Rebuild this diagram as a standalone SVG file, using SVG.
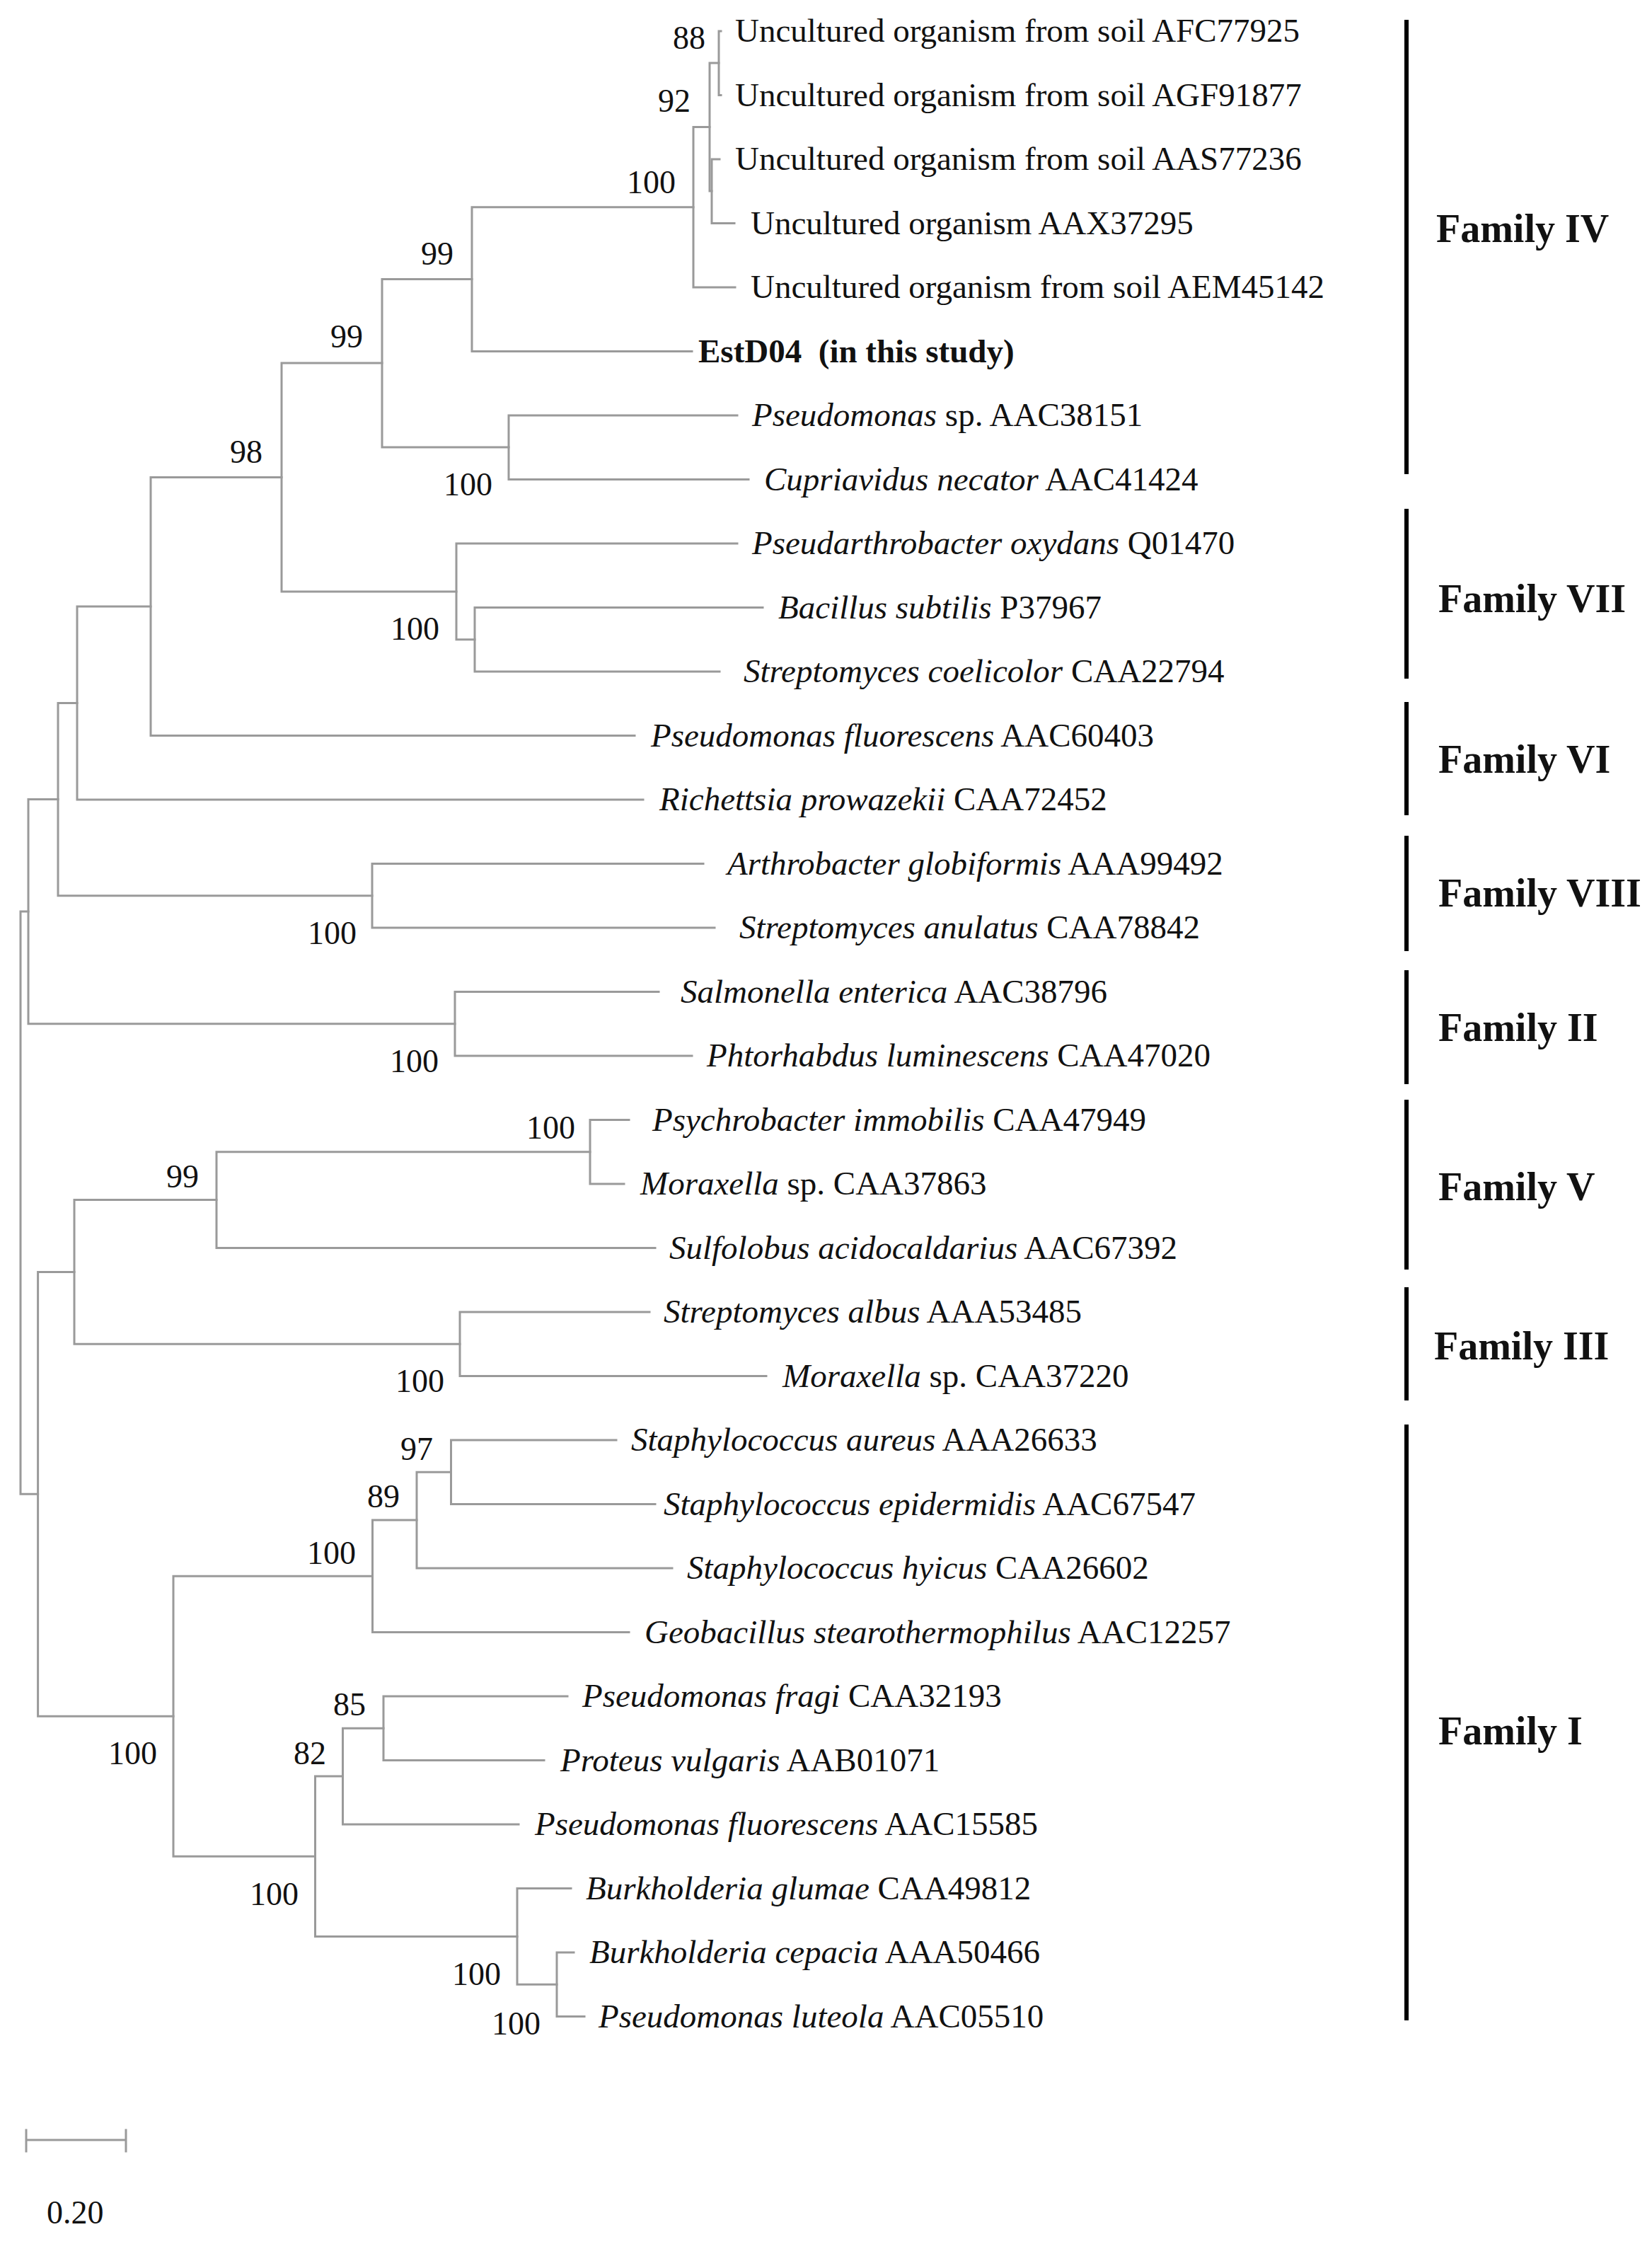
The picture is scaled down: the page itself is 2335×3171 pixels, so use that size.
<svg xmlns="http://www.w3.org/2000/svg" width="2335" height="3171" viewBox="0 0 2335 3171">
<style>
.br{fill:none;stroke:#9a9a9a;stroke-width:3;stroke-linecap:square}
.bar{stroke:#000;stroke-width:6}
text{font-family:"Liberation Serif","Times New Roman",serif;fill:#111}
.lf{font-size:47px}
.bs{font-size:46px}
.fam{font-size:56px;font-weight:bold}
.it{font-style:italic}
</style>
<rect width="2335" height="3171" fill="#fff"/>
<g id="connectors">
<path class="br" d="M1016 44V134.5M1016 44H1019M1016 134.5H1019"/>
<path class="br" d="M1006 225V315.5M1006 225H1017M1006 315.5H1038"/>
<path class="br" d="M1003 89V270M1003 89H1016M1003 270H1006"/>
<path class="br" d="M980 179.5V406M980 179.5H1003M980 406H1039"/>
<path class="br" d="M667 292.75V496.5M667 292.75H980M667 496.5H978"/>
<path class="br" d="M719 587V677.5M719 587H1042M719 677.5H1058"/>
<path class="br" d="M540 394.6V632M540 394.6H667M540 632H719"/>
<path class="br" d="M671 858.5V949M671 858.5H1078M671 949H1017"/>
<path class="br" d="M645 768V903.75M645 768H1042M645 903.75H671"/>
<path class="br" d="M398 513V836M398 513H540M398 836H645"/>
<path class="br" d="M213 674.5V1039.5M213 674.5H398M213 1039.5H897"/>
<path class="br" d="M109 857V1130M109 857H213M109 1130H909"/>
<path class="br" d="M526 1220.5V1311M526 1220.5H994M526 1311H1010"/>
<path class="br" d="M82 993.5V1265.75M82 993.5H109M82 1265.75H526"/>
<path class="br" d="M643 1401.5V1492M643 1401.5H931M643 1492H978"/>
<path class="br" d="M40 1129.6V1446.75M40 1129.6H82M40 1446.75H643"/>
<path class="br" d="M834 1582.5V1673M834 1582.5H889M834 1673H882"/>
<path class="br" d="M306 1627.75V1763.5M306 1627.75H834M306 1763.5H926"/>
<path class="br" d="M650 1854V1944.5M650 1854H918M650 1944.5H1083"/>
<path class="br" d="M105 1695.6V1899.25M105 1695.6H306M105 1899.25H650"/>
<path class="br" d="M637.5 2035V2125.5M637.5 2035H871M637.5 2125.5H926"/>
<path class="br" d="M589 2080.25V2216M589 2080.25H637.5M589 2216H950"/>
<path class="br" d="M526.5 2148.1V2306.5M526.5 2148.1H589M526.5 2306.5H889"/>
<path class="br" d="M542 2397V2487.5M542 2397H802M542 2487.5H769"/>
<path class="br" d="M484.5 2442.25V2578M484.5 2442.25H542M484.5 2578H733"/>
<path class="br" d="M787 2759V2849.5M787 2759H811M787 2849.5H826"/>
<path class="br" d="M731 2668.5V2804.25M731 2668.5H807M731 2804.25H787"/>
<path class="br" d="M445.5 2510.1V2736.4M445.5 2510.1H484.5M445.5 2736.4H731"/>
<path class="br" d="M245 2227.3V2623.25M245 2227.3H526.5M245 2623.25H445.5"/>
<path class="br" d="M53.6 1797.4V2425.3M53.6 1797.4H105M53.6 2425.3H245"/>
<path class="br" d="M29 1288V2111.3M29 1288H40M29 2111.3H53.6"/>
<path class="br" d="M37 3024H178M37 3010V3040M178 3010V3040"/>
</g>
<g id="leaves" class="lf">
<text id="n1" x="1039" y="59">Uncultured organism from soil AFC77925</text>
<text id="n2" x="1039" y="149.5">Uncultured organism from soil AGF91877</text>
<text id="n3" x="1039" y="240">Uncultured organism from soil AAS77236</text>
<text id="n4" x="1061" y="330.5">Uncultured organism AAX37295</text>
<text id="n5" x="1061" y="421">Uncultured organism from soil AEM45142</text>
<text id="n6" x="987" y="511.5" font-weight="bold" style="white-space:pre">EstD04  (in this study)</text>
<text id="n7" x="1063" y="602"><tspan class="it">Pseudomonas</tspan> sp. AAC38151</text>
<text id="n8" x="1080" y="692.5"><tspan class="it">Cupriavidus necator</tspan> AAC41424</text>
<text id="n9" x="1063" y="783"><tspan class="it">Pseudarthrobacter oxydans</tspan> Q01470</text>
<text id="n10" x="1100" y="873.5"><tspan class="it">Bacillus subtilis</tspan> P37967</text>
<text id="n11" x="1051" y="964"><tspan class="it">Streptomyces coelicolor</tspan> CAA22794</text>
<text id="n12" x="920" y="1054.5"><tspan class="it">Pseudomonas fluorescens</tspan> AAC60403</text>
<text id="n13" x="932" y="1145"><tspan class="it">Richettsia prowazekii</tspan> CAA72452</text>
<text id="n14" x="1028" y="1235.5"><tspan class="it">Arthrobacter globiformis</tspan> AAA99492</text>
<text id="n15" x="1045" y="1326"><tspan class="it">Streptomyces anulatus</tspan> CAA78842</text>
<text id="n16" x="962" y="1416.5"><tspan class="it">Salmonella enterica</tspan> AAC38796</text>
<text id="n17" x="999" y="1507"><tspan class="it">Phtorhabdus luminescens</tspan> CAA47020</text>
<text id="n18" x="922" y="1597.5"><tspan class="it">Psychrobacter immobilis</tspan> CAA47949</text>
<text id="n19" x="905" y="1688"><tspan class="it">Moraxella</tspan> sp. CAA37863</text>
<text id="n20" x="946" y="1778.5"><tspan class="it">Sulfolobus acidocaldarius</tspan> AAC67392</text>
<text id="n21" x="938" y="1869"><tspan class="it">Streptomyces albus</tspan> AAA53485</text>
<text id="n22" x="1106" y="1959.5"><tspan class="it">Moraxella</tspan> sp. CAA37220</text>
<text id="n23" x="892" y="2050"><tspan class="it">Staphylococcus aureus</tspan> AAA26633</text>
<text id="n24" x="938" y="2140.5"><tspan class="it">Staphylococcus epidermidis</tspan> AAC67547</text>
<text id="n25" x="971" y="2231"><tspan class="it">Staphylococcus hyicus</tspan> CAA26602</text>
<text id="n26" x="911" y="2321.5"><tspan class="it">Geobacillus stearothermophilus</tspan> AAC12257</text>
<text id="n27" x="823" y="2412"><tspan class="it">Pseudomonas fragi</tspan> CAA32193</text>
<text id="n28" x="792" y="2502.5"><tspan class="it">Proteus vulgaris</tspan> AAB01071</text>
<text id="n29" x="756" y="2593"><tspan class="it">Pseudomonas fluorescens</tspan> AAC15585</text>
<text id="n30" x="828" y="2683.5"><tspan class="it">Burkholderia glumae</tspan> CAA49812</text>
<text id="n31" x="833" y="2774"><tspan class="it">Burkholderia cepacia</tspan> AAA50466</text>
<text id="n32" x="846" y="2864.5"><tspan class="it">Pseudomonas luteola</tspan> AAC05510</text>
</g>
<g id="bootstrap" class="bs">
<text x="951" y="69">88</text>
<text x="930" y="158">92</text>
<text x="886" y="273">100</text>
<text x="595" y="374">99</text>
<text x="467" y="491">99</text>
<text x="627" y="700">100</text>
<text x="325" y="654">98</text>
<text x="552" y="904">100</text>
<text x="435" y="1334">100</text>
<text x="551" y="1515">100</text>
<text x="744" y="1609">100</text>
<text x="235" y="1678">99</text>
<text x="559" y="1967">100</text>
<text x="566" y="2063">97</text>
<text x="519" y="2130">89</text>
<text x="434" y="2210">100</text>
<text x="153" y="2493">100</text>
<text x="471" y="2424">85</text>
<text x="415" y="2493">82</text>
<text x="353" y="2692">100</text>
<text x="639" y="2805">100</text>
<text x="695" y="2875">100</text>
</g>
<g id="families">
<g id="famIV"><line class="bar" x1="1988" y1="28" x2="1988" y2="670"/><text class="fam" x="2030" y="342">Family IV</text></g>
<g id="famVII"><line class="bar" x1="1988" y1="719" x2="1988" y2="959"/><text class="fam" x="2033" y="865">Family VII</text></g>
<g id="famVI"><line class="bar" x1="1988" y1="992" x2="1988" y2="1152"/><text class="fam" x="2033" y="1092">Family VI</text></g>
<g id="famVIII"><line class="bar" x1="1988" y1="1181" x2="1988" y2="1344"/><text class="fam" x="2033" y="1281">Family VIII</text></g>
<g id="famII"><line class="bar" x1="1988" y1="1371" x2="1988" y2="1532"/><text class="fam" x="2033" y="1471">Family II</text></g>
<g id="famV"><line class="bar" x1="1988" y1="1554" x2="1988" y2="1794"/><text class="fam" x="2033" y="1696">Family V</text></g>
<g id="famIII"><line class="bar" x1="1988" y1="1819" x2="1988" y2="1979"/><text class="fam" x="2027" y="1921">Family III</text></g>
<g id="famI"><line class="bar" x1="1988" y1="2013" x2="1988" y2="2855"/><text class="fam" x="2033" y="2465">Family I</text></g>
</g>
<g id="scale"><text class="bs" x="66" y="3142">0.20</text></g>
</svg>
